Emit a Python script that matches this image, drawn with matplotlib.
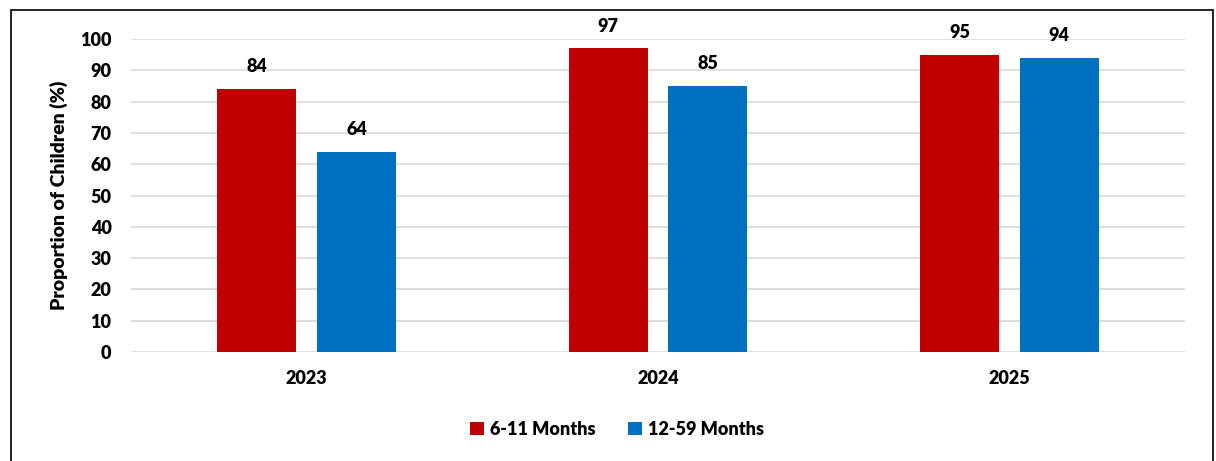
import matplotlib
matplotlib.use("Agg")
import matplotlib.pyplot as plt
from matplotlib.patches import Rectangle
import numpy as np

years = ["2023", "2024", "2025"]
series_names = ["6-11 Months", "12-59 Months"]
vals_6_11 = [84, 97, 95]
vals_12_59 = [64, 85, 94]
yticks = [0, 10, 20, 30, 40, 50, 60, 70, 80, 90, 100]
colors = ["#C00000", "#0070C0"]

FW = 'heavy'
FS = 13
plt.rcParams['font.family'] = ['Lato', 'DejaVu Sans']
plt.rcParams['font.weight'] = FW

W, H = 1216, 461
fig = plt.figure(figsize=(W/100, H/100), dpi=100)
ax = fig.add_axes([131/W, 1-352/H, (1185-131)/W, (352-39)/H])

x = np.arange(len(years))
bw = 0.225
off = 0.142
for i, (vals, name) in enumerate(zip([vals_6_11, vals_12_59], series_names)):
    pos = x + (-off if i == 0 else off)
    bars = ax.bar(pos, vals, width=bw, color=colors[i], label=name, zorder=3)
    for b, v in zip(bars, vals):
        ax.annotate(str(v), (b.get_x()+b.get_width()/2, v), xytext=(0, 10),
                    textcoords='offset points', ha='center', va='bottom',
                    fontsize=FS, fontweight=FW, color='#000000')

ax.set_xlim(-0.5, 2.5)
ax.set_ylim(0, 100)
ax.set_yticks(yticks)
ax.set_yticklabels([str(t) for t in yticks], fontsize=FS, fontweight=FW)
ax.set_xticks(x)
ax.set_xticklabels(years, fontsize=FS, fontweight=FW)
ax.tick_params(axis='both', length=0)
ax.tick_params(axis='x', pad=13)
ax.tick_params(axis='y', pad=14)
ax.yaxis.grid(True, color='#D9D9D9', linewidth=1.2, zorder=0)
ax.set_axisbelow(True)
for s in ax.spines.values():
    s.set_visible(False)
ax.set_ylabel("Proportion of Children (%)", fontsize=14, fontweight=FW, labelpad=9)

fig.legend(loc='center', bbox_to_anchor=(617/W, 1-429/H), ncol=2, frameon=False,
           prop={'size': FS, 'weight': FW}, handlelength=0.75, handleheight=0.75,
           handletextpad=0.35, columnspacing=1.8)

fig.patches.append(Rectangle((11/W, -0.1), (1213-11)/W, 1.1 - 10/H,
                             transform=fig.transFigure, fill=False,
                             edgecolor='black', linewidth=1.2))

fig.savefig("out.png", dpi=100)
